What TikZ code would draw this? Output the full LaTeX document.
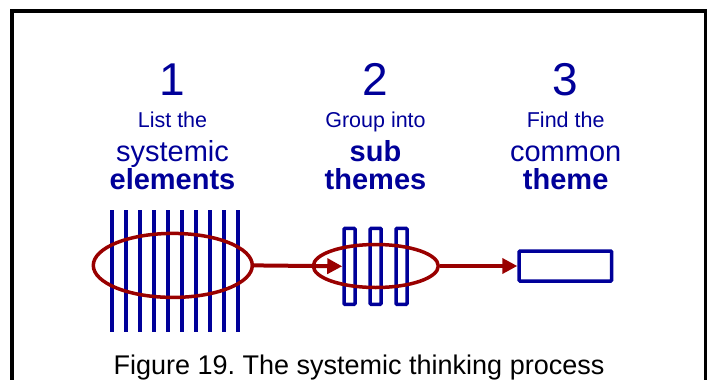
\documentclass[tikz,border=0pt]{standalone}
\usepackage{fontspec}
\setmainfont{Liberation Sans}
\usetikzlibrary{arrows.meta,shapes.geometric}
\definecolor{navy}{RGB}{0,0,153}
\definecolor{darkred}{RGB}{153,0,0}
\frenchspacing
\begin{document}
\begin{tikzpicture}[x=1pt,y=-1pt,
  digit/.style={anchor=base,inner sep=0,text=navy,font=\fontsize{46}{46}\selectfont},
  small/.style={anchor=base,inner sep=0,text=navy,font=\fontsize{21.5}{21.5}\selectfont},
  big/.style={anchor=base,inner sep=0,text=navy,font=\fontsize{29}{29}\selectfont},
  bigb/.style={anchor=base,inner sep=0,text=navy,font=\fontsize{29}{29}\selectfont\bfseries},
  stripe/.style={draw=navy,line width=4pt},
  bar/.style={draw=navy,line width=3.5pt,rounded corners=1pt,inner sep=0,minimum width=11pt,minimum height=76pt},
  oval/.style={ellipse,draw=darkred,line width=3.5pt,inner sep=0},
  flow/.style={draw=darkred,line width=4pt,-{Triangle[length=15pt,width=15pt]}},
  caption/.style={anchor=base,inner sep=0,text=black,font=\fontsize{27}{27}\selectfont}]
\useasboundingbox (0,0) rectangle (707,380);
\begin{scope}
\clip (0,0) rectangle (707,380);
\draw[line width=3.8pt] (12,400) -- (12,11) -- (706,11) -- (706,400);
\end{scope}
% column texts
\node[digit] (n1) at (172.5,95) {1};
\node[small] (t1a) at (172.5,127.3) {List the};
\node[big] (t1b) at (172.5,161) {systemic};
\node[bigb] (t1c) at (172.5,189.3) {elements};
\node[digit] (n2) at (375.5,95.5) {2};
\node[small] (t2a) at (375.5,127.3) {Group into};
\node[bigb] (t2b) at (375.5,161) {sub};
\node[bigb] (t2c) at (375.5,189.3) {themes};
\node[digit] (n3) at (565.7,95.5) {3};
\node[small] (t3a) at (565.7,127.3) {Find the};
\node[big] (t3b) at (565.7,161) {common};
\node[bigb] (t3c) at (565.7,189.3) {theme};
% stripes
\foreach \i in {0,...,9}{
  \draw[stripe] (112.3+13.95*\i,210) -- (112.3+13.95*\i,331.5);
}
% bars
\node[bar] (b1) at (349.5,266.3) {};
\node[bar] (b2) at (375.7,266.3) {};
\node[bar] (b3) at (401.5,266.3) {};
% ovals
\node[oval,minimum width=159pt,minimum height=64pt] (e1) at (172.8,265.4) {};
\node[oval,minimum width=125pt,minimum height=43pt] (e2) at (375.8,266) {};
% final box
\node[draw=navy,line width=3.5pt,inner sep=0,minimum width=92.5pt,minimum height=30pt,rounded corners=1pt] (box) at (565.3,266) {};
% arrows
\draw[flow] (e1.east) -- (b1.west);
\draw[flow] (e2.east) -- (box.west);
% caption
\node[caption] (cap) at (359,374.5) {Figure 19. The systemic thinking process};
\end{tikzpicture}
\end{document}
